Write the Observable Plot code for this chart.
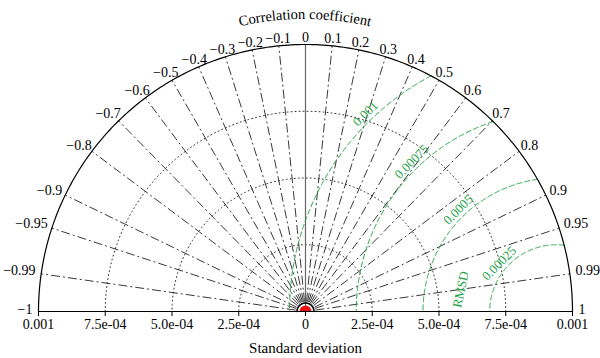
<!DOCTYPE html>
<html>
<head>
<meta charset="utf-8">
<script src="https://cdn.jsdelivr.net/npm/d3@7"></script>
<script src="https://cdn.jsdelivr.net/npm/@observablehq/plot@0.6"></script>
<style>
  html, body { margin: 0; padding: 0; background: white; font-family: 'Liberation Serif', serif; }
  #chart { width: 600px; height: 358px; }
  #chart svg, #chart svg text { font-family: 'Liberation Serif', serif; }
</style>
</head>
<body>
<div id="chart"></div>
<script>
// ---- data ----
const corrTicks = [-1, -0.99, -0.95, -0.9, -0.8, -0.7, -0.6, -0.5, -0.4, -0.3, -0.2, -0.1, 0,
                   0.1, 0.2, 0.3, 0.4, 0.5, 0.6, 0.7, 0.8, 0.9, 0.95, 0.99, 1];
const corrLabels = ["\u22121", "\u22120.99", "\u22120.95", "\u22120.9", "\u22120.8", "\u22120.7", "\u22120.6",
                    "\u22120.5", "\u22120.4", "\u22120.3", "\u22120.2", "\u22120.1", "0",
                    "0.1", "0.2", "0.3", "0.4", "0.5", "0.6", "0.7", "0.8", "0.9", "0.95", "0.99", "1"];
const stdTicks = [-0.001, -0.00075, -0.0005, -0.00025, 0, 0.00025, 0.0005, 0.00075, 0.001];
const stdTickLabels = ["0.001", "7.5e-04", "5.0e-04", "2.5e-04", "0", "2.5e-04", "5.0e-04", "7.5e-04", "0.001"];
const stdCircles = [0.00025, 0.0005, 0.00075];
const stdMax = 0.001;
const rmsdLevels = [0.00025, 0.0005, 0.00075, 0.001];
const rmsdLabels = ["0.00025", "0.0005", "0.00075", "0.001"];
const refStd = 0.00094;
const modelStd = [0];
const modelCorr = [0.5];
const titleTop = "Correlation coefficient";
const titleBottom = "Standard deviation";

// ---- geometry helpers ----
const W = 600, H = 358;
const mL = 38, mR = 28, mT = 44, mB = 47;
const pxPerUnit = (W - mL - mR) / (2 * stdMax); // pixels per data unit
const px = p => p / pxPerUnit;                  // pixels -> data units
const deg = Math.PI / 180;

const measureCtx = document.createElement("canvas").getContext("2d");
measureCtx.font = "14px 'Liberation Serif'";
const textWidth = s => measureCtx.measureText(s).width;

function arcPoints(cx, r, t0, t1, key) {
  const pts = [];
  const n = 240;
  for (let k = 0; k <= n; k++) {
    const t = t0 + (t1 - t0) * k / n;
    pts.push({x: cx + r * Math.cos(t), y: r * Math.sin(t), key});
  }
  return pts;
}

const outerArc = arcPoints(0, stdMax, 0, Math.PI, "outer");
const stdArcs = stdCircles.flatMap(s => arcPoints(0, s, 0, Math.PI, s));
const rmsdArcs = rmsdLevels.flatMap(R => {
  const xi = (refStd * refStd + stdMax * stdMax - R * R) / (2 * refStd);
  const yi = Math.sqrt(Math.max(0, stdMax * stdMax - xi * xi));
  const tStart = Math.atan2(yi, xi - refStd);
  return arcPoints(refStd, R, tStart, Math.PI, R);
});
const innerArc = arcPoints(0, px(8.5), 0, Math.PI, "inner");

const radialCorr = corrTicks.filter(c => Math.abs(c) < 1 && c !== 0);
const sinOf = c => Math.sqrt(1 - c * c);
const r0 = px(10); // radial lines start a little away from the origin

const rmsdLabelData = rmsdLevels.map((R, i) => {
  const a = (i === 0 ? 40 : 46) * deg;
  const rr = R + px(8);
  return {x: refStd - rr * Math.cos(a), y: rr * Math.sin(a), text: rmsdLabels[i]};
});
const rmsdWord = (() => {
  const rr = (rmsdLevels[0] + rmsdLevels[1]) / 2 - px(2);
  const a = 13 * deg;
  return [{x: refStd - rr * Math.cos(a), y: rr * Math.sin(a), text: "RMSD"}];
})();

const corrLabelData = corrTicks.map((c, i) => {
  const s = sinOf(c);
  const hw = textWidth(corrLabels[i]) / 2;
  const xr = (273 + hw * Math.abs(c)) * c;
  const yr = 276 * s - 2 * Math.pow(s, 10) + 2 * (1 - s);
  return {x: px(xr), y: px(yr), text: corrLabels[i]};
});

const green = "#22a244";

const chart = Plot.plot({
  width: W, height: H,
  marginLeft: mL, marginRight: mR, marginTop: mT, marginBottom: mB,
  x: {domain: [-stdMax, stdMax]},
  y: {domain: [0, stdMax], axis: null},
  style: {fontFamily: "'Liberation Serif', serif", fontSize: "14px", background: "white", color: "black"},
  marks: [
    // standard deviation dotted semicircles
    Plot.line(stdArcs, {x: "x", y: "y", z: "key", stroke: "#333", strokeWidth: 1, strokeDasharray: "1,3"}),
    // correlation radial lines
    Plot.link(radialCorr, {
      x1: c => r0 * c, y1: c => r0 * sinOf(c),
      x2: c => stdMax * c, y2: c => stdMax * sinOf(c),
      stroke: "#222", strokeWidth: 0.9, strokeDasharray: "9,3,2,3"
    }),
    // correlation = 0 line
    Plot.link([0], {x1: () => 0, y1: () => 0, x2: () => 0, y2: () => stdMax, stroke: "#666", strokeWidth: 1.2}),
    // RMSD arcs
    Plot.line(rmsdArcs, {x: "x", y: "y", z: "key", stroke: green, strokeWidth: 1, strokeDasharray: "5,3"}),
    // outer arc and baseline
    Plot.line(outerArc, {x: "x", y: "y", stroke: "black", strokeWidth: 1.2}),
    Plot.ruleY([0], {x1: () => -stdMax, x2: () => stdMax, stroke: "black", strokeWidth: 1.2}),
    // inner arc near origin
    Plot.line(innerArc, {x: "x", y: "y", stroke: "black", strokeWidth: 1.6}),
    // model point
    Plot.dot(modelStd, {x: (d, i) => d * modelCorr[i], y: (d, i) => d * sinOf(modelCorr[i]), r: 6, fill: "#ee1111", stroke: "none", clip: true}),
    // x axis
    Plot.axisX(stdTicks, {tickFormat: d => stdTickLabels[stdTicks.indexOf(d)], tickSize: 5, tickPadding: 3, fontSize: 14, label: null}),
    // correlation labels
    Plot.text(corrLabelData, {x: "x", y: "y", text: "text", fontSize: 14, fill: "black"}),
    // RMSD labels
    Plot.text(rmsdLabelData, {x: "x", y: "y", text: "text", rotate: -45, fontSize: 13, fill: green}),
    Plot.text(rmsdWord, {x: "x", y: "y", text: "text", rotate: -78, fontSize: 13, fill: green}),
    // titles
    Plot.text([titleTop], {x: () => 0, y: () => stdMax, dy: -29, text: d => d, fontSize: 14.5, fill: "black"}),
    Plot.text([titleBottom], {x: () => 0, y: () => 0, dy: 37, text: d => d, fontSize: 15, fill: "black"})
  ]
});
document.getElementById("chart").appendChild(chart);

// bend the top title along an arc concentric with the diagram
(function () {
  const svg = chart.tagName.toLowerCase() === "svg" ? chart : chart.querySelector("svg");
  const cx = chart.scale("x").apply(0), cy = chart.scale("y").apply(0);
  const R = cy - 19; // baseline radius
  const a = 40 * deg;
  const ns = "http://www.w3.org/2000/svg";
  const defs = document.createElementNS(ns, "defs");
  const path = document.createElementNS(ns, "path");
  path.setAttribute("id", "titleArc");
  path.setAttribute("fill", "none");
  path.setAttribute("d", `M${cx - R * Math.sin(a)},${cy - R * Math.cos(a)} A${R},${R} 0 0 1 ${cx + R * Math.sin(a)},${cy - R * Math.cos(a)}`);
  defs.appendChild(path);
  svg.insertBefore(defs, svg.firstChild);
  const t = Array.from(svg.querySelectorAll("text")).find(e => e.textContent === titleTop);
  if (t) {
    t.removeAttribute("transform");
    t.removeAttribute("x");
    t.removeAttribute("y");
    t.removeAttribute("dy");
    if (t.parentNode && t.parentNode.getAttribute("aria-label") === "text") t.parentNode.removeAttribute("transform");
    t.textContent = "";
    const tp = document.createElementNS(ns, "textPath");
    tp.setAttribute("href", "#titleArc");
    tp.setAttribute("startOffset", "50%");
    tp.setAttribute("text-anchor", "middle");
    tp.textContent = titleTop;
    t.appendChild(tp);
  }
})();
</script>
</body>
</html>
